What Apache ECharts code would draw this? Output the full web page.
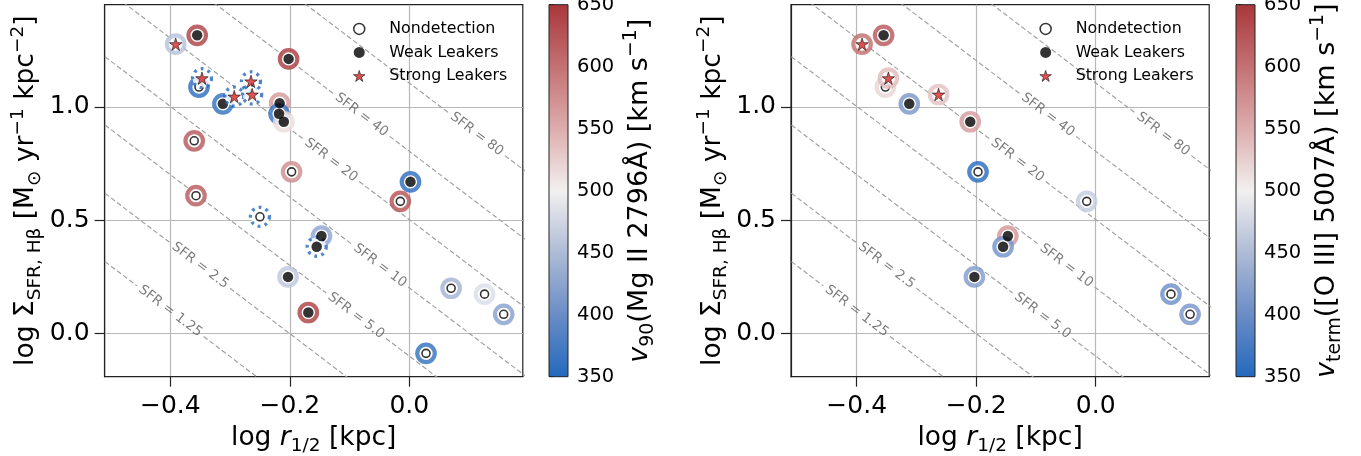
<!DOCTYPE html>
<html>
<head>
<meta charset="utf-8">
<script src="https://cdn.jsdelivr.net/npm/echarts@6/dist/echarts.min.js"></script>
<style>
  html, body { margin: 0; padding: 0; background: #fff; }
  #chart { width: 1361px; height: 456px; }
</style>
</head>
<body>
<div id="chart"></div>
<script>
// ---- sample: half-light radius, SFR surface density, leaker class ----
const logR = [-0.391, -0.355, -0.202, -0.347, -0.352, -0.312, -0.293, -0.265, -0.263,
              -0.217, -0.218, -0.210, -0.360, -0.197, -0.357, -0.250, 0.002, -0.015,
              -0.147, -0.155, -0.203, -0.169, 0.070, 0.126, 0.158, 0.028];
const logSigma = [1.276, 1.315, 1.211, 1.126, 1.087, 1.013, 1.045, 1.112, 1.054,
                  1.016, 0.969, 0.934, 0.850, 0.713, 0.608, 0.515, 0.669, 0.583,
                  0.430, 0.383, 0.250, 0.093, 0.200, 0.174, 0.085, -0.087];
// N = Nondetection, W = Weak Leakers, S = Strong Leakers
const leakClass = ['S', 'W', 'W', 'S', 'N', 'W', 'S', 'S', 'S',
                   'W', 'W', 'W', 'N', 'N', 'N', 'N', 'W', 'N',
                   'W', 'W', 'W', 'W', 'N', 'N', 'N', 'N'];
// Mg II 2796 v90 [km/s]; dotted ring where no value is measured
const v90 = [455, 645, 648, null, 355, 358, null, null, null,
             568, 360, 515, 625, 578, 622, null, 355, 628,
             425, null, 460, 645, 440, 482, 420, 358];
const v90Dotted = [false, false, false, true, false, false, true, true, true,
                   false, false, false, false, false, false, true, false, false,
                   false, true, false, false, false, false, false, false];
// [O III] 5007 terminal velocity [km/s]
const vTerm = [605, 625, null, 540, 520, 410, null, null, 535,
               null, null, 565, null, 352, null, null, null, 465,
               570, 405, 415, null, null, 400, 408, null];

const classKeys = ['N', 'W', 'S'];
const classNames = ['Nondetection', 'Weak Leakers', 'Strong Leakers'];

// tick labels
const xTicks = [-0.4, -0.2, 0.0];
const yTicks = [0.0, 0.5, 1.0];
const cbTicks = [350, 400, 450, 500, 550, 600, 650];

// constant-SFR curves: Sigma = SFR / (2 pi r^2)
const sfrLabels = ['1.25', '2.5', '5.0', '10', '20', '40', '80'];
const sfrLevels = sfrLabels.map(Number);

// ---- layout ----
const FONT = "'DejaVu Sans', sans-serif";
const X_MIN = -0.51, X_MAX = 0.19, Y_MIN = -0.19, Y_MAX = 1.45;
const GRID_TOP = 4.7, GRID_H = 372, GRID_W = 418.2;
const CB_W = 19;
const sfrLabelAt = [-0.400, -0.350, -0.089, -0.049, -0.131, -0.080, 0.113];

const pxX = GRID_W / (X_MAX - X_MIN);
const pxY = GRID_H / (Y_MAX - Y_MIN);
const slopeAngle = Math.atan(2 * pxY / pxX);
const slopeDeg = slopeAngle * 180 / Math.PI;

// diverging blue-white-red colour map over 350..650 km/s
const cmapStops = [
  [0.000, [35, 105, 189]],
  [0.167, [106, 140, 198]],
  [0.333, [173, 187, 214]],
  [0.500, [243, 240, 240]],
  [0.667, [221, 172, 172]],
  [0.833, [195, 113, 115]],
  [1.000, [169, 55, 59]]
];
const V_MIN = cbTicks[0], V_MAX = cbTicks[cbTicks.length - 1];
function cmap(v) {
  let t = (v - V_MIN) / (V_MAX - V_MIN);
  t = Math.max(0, Math.min(1, t));
  for (let i = 1; i < cmapStops.length; i++) {
    const [t1, c1] = cmapStops[i];
    const [t0, c0] = cmapStops[i - 1];
    if (t <= t1) {
      const f = (t - t0) / (t1 - t0);
      const c = c0.map((a, j) => Math.round(a + (c1[j] - a) * f));
      return `rgb(${c[0]},${c[1]},${c[2]})`;
    }
  }
  const c = cmapStops[cmapStops.length - 1][1];
  return `rgb(${c[0]},${c[1]},${c[2]})`;
}

// five-pointed star marker
const STAR = (function () {
  const pts = [];
  for (let k = 0; k < 10; k++) {
    const a = -Math.PI / 2 + k * Math.PI / 5;
    const r = k % 2 ? 38.1966 : 100;
    pts.push((r * Math.cos(a)).toFixed(2) + ' ' + (r * Math.sin(a)).toFixed(2));
  }
  return 'path://M' + pts.join(' L') + ' Z';
})();

const DOT_BLUE = '#2466be';
const SFR_FONT = 13.5;

const measure = document.createElement('canvas').getContext('2d');
measure.font = SFR_FONT + 'px "DejaVu Sans"';

const baseRich = {
  m: { fontSize: 26.5, fontFamily: FONT, color: '#000', lineHeight: 36, verticalAlign: 'middle' },
  i: { fontSize: 26.5, fontFamily: FONT, color: '#000', lineHeight: 36, verticalAlign: 'middle', fontStyle: 'italic' },
  s: { fontSize: 18.5, fontFamily: FONT, color: '#000', lineHeight: 18, verticalAlign: 'bottom' },
  p: { fontSize: 18.5, fontFamily: FONT, color: '#000', lineHeight: 18, verticalAlign: 'top' }
};

const fmtTick = v => (v < 0 ? '\u2212' : '') + Math.abs(v).toFixed(1);

const panels = [
  { left: 104.6, cbLeft: 549, vel: v90, dotted: v90Dotted,
    cbName: '{i|v}{s|90}{m|(Mg II 2796\u00c5) [km s}{p|\u22121}{m|]}' },
  { left: 791, cbLeft: 1236, vel: vTerm, dotted: null,
    cbName: '{i|v}{s|term}{m|([O III] 5007\u00c5) [km s}{p|\u22121}{m|]}' }
];

const grids = [], xAxes = [], yAxes = [], series = [], legends = [];

panels.forEach((P, pi) => {
  grids.push({ left: P.left, top: GRID_TOP, width: GRID_W, height: GRID_H,
               show: true, borderColor: '#222', borderWidth: 1.2, backgroundColor: '#fff',
               containLabel: false, outerBoundsMode: 'none' });
  xAxes.push({
    type: 'value', gridIndex: pi, min: X_MIN, max: X_MAX, splitNumber: 3,
    axisLine: { show: true, onZero: false, lineStyle: { color: '#222', width: 1.2 } },
    axisTick: { show: true, customValues: xTicks, length: 10, lineStyle: { color: '#222', width: 1.2 } },
    axisLabel: { customValues: xTicks, formatter: fmtTick, fontSize: 25, color: '#000',
                 fontFamily: FONT, margin: 17 },
    splitLine: { show: true, lineStyle: { color: '#b8b8b8', width: 1.2 } },
    name: '{m|log }{i|r}{s|1/2}{m| [kpc]}',
    nameLocation: 'middle', nameGap: 43,
    nameTextStyle: { rich: baseRich }
  });
  yAxes.push({
    type: 'value', gridIndex: pi, min: Y_MIN, max: Y_MAX, splitNumber: 3,
    axisLine: { show: true, onZero: false, lineStyle: { color: '#222', width: 1.2 } },
    axisTick: { show: true, customValues: yTicks, length: 10, lineStyle: { color: '#222', width: 1.2 } },
    axisLabel: { customValues: yTicks, formatter: fmtTick, fontSize: 25, color: '#000',
                 fontFamily: FONT, margin: 15 },
    splitLine: { show: true, lineStyle: { color: '#b8b8b8', width: 1.2 } },
    name: '{m|log \u03a3}{s|SFR, H\u03b2}{m| [M}{s|\u2299}{m| yr}{p|\u22121}{m| kpc}{p|\u22122}{m|]}',
    nameLocation: 'middle', nameGap: 60, nameRotate: 90,
    nameTextStyle: { rich: baseRich }
  });

  // constant-SFR dashed curves with a gap where the label sits
  sfrLevels.forEach((sfr, li) => {
    const c = Math.log10(sfr / (2 * Math.PI));
    const yAt = x => c - 2 * x;
    const xc = sfrLabelAt[li];
    const text = 'SFR = ' + sfrLabels[li];
    const half = measure.measureText(text).width / 2 + 4;
    const dx = half * Math.cos(slopeAngle) / pxX;
    [[X_MIN - 0.05, xc - dx], [xc + dx, X_MAX + 0.05]].forEach(seg => {
      series.push({
        type: 'line', xAxisIndex: pi, yAxisIndex: pi, silent: true, clip: true,
        symbol: 'none', animation: false, z: 1,
        lineStyle: { color: '#a0a0a0', width: 1.15, type: [5, 2.6] },
        data: seg.map(x => [x, yAt(x)])
      });
    });
    series.push({
      type: 'scatter', xAxisIndex: pi, yAxisIndex: pi, silent: true, z: 1,
      symbolSize: 1, itemStyle: { color: 'transparent' },
      label: { show: true, position: 'inside', formatter: text, rotate: -slopeDeg,
               fontSize: SFR_FONT, color: '#5c5c5c', fontFamily: FONT },
      data: [[xc, yAt(xc)]]
    });
  });

  // coloured rings and markers, one pass per leaker class
  classKeys.forEach((key, ci) => {
    const idx = [];
    logR.forEach((_, k) => {
      if (leakClass[k] !== key) return;
      const hasVal = P.vel[k] !== null;
      const isDot = P.dotted && P.dotted[k];
      if (hasVal || isDot) idx.push(k);
    });
    series.push({
      type: 'scatter', xAxisIndex: pi, yAxisIndex: pi, silent: true, z: 2,
      symbol: 'circle',
      data: idx.map(k => {
        const isDot = P.dotted && P.dotted[k];
        return isDot
          ? { value: [logR[k], logSigma[k]], symbolSize: 19,
              itemStyle: { color: '#fff', borderColor: DOT_BLUE, borderWidth: 3.3, borderType: [2.8, 4.4] } }
          : { value: [logR[k], logSigma[k]], symbolSize: 17.5,
              itemStyle: { color: '#fff', borderColor: cmap(P.vel[k]), borderWidth: 4.2 } };
      })
    });
    const markerStyle = key === 'N'
      ? { symbol: 'circle', symbolSize: 8, itemStyle: { color: '#fff', borderColor: '#000', borderWidth: 1.6 } }
      : key === 'W'
        ? { symbol: 'circle', symbolSize: 10.5, itemStyle: { color: '#000', borderWidth: 0 } }
        : { symbol: STAR, symbolSize: 12.5, itemStyle: { color: '#d62728', borderColor: '#000', borderWidth: 0.7 } };
    series.push(Object.assign({
      type: 'scatter', name: classNames[ci], xAxisIndex: pi, yAxisIndex: pi, silent: true, z: 2,
      data: idx.map(k => [logR[k], logSigma[k]])
    }, markerStyle));
  });

  legends.push({
    left: P.left + 243.4, top: 15.7, orient: 'vertical',
    itemWidth: 50, itemHeight: 11, itemGap: 7, selectedMode: false,
    textStyle: { fontSize: 15.8, color: '#000', fontFamily: FONT, lineHeight: 16.5 },
    data: [
      { name: classNames[0], icon: 'circle', itemStyle: { color: '#fff', borderColor: '#000', borderWidth: 1.5 } },
      { name: classNames[1], icon: 'circle', itemStyle: { color: '#000', borderWidth: 0 } },
      { name: classNames[2], icon: STAR, itemStyle: { color: '#d62728', borderColor: '#000', borderWidth: 0.7 } }
    ]
  });
});

// colour bars
panels.forEach((P, pi) => {
  const gi = 2 + pi;
  grids.push({ left: P.cbLeft, top: GRID_TOP, width: CB_W, height: GRID_H,
               containLabel: false, outerBoundsMode: 'none' });
  xAxes.push({ type: 'value', gridIndex: gi, min: 0, max: 1, show: false });
  yAxes.push({
    type: 'value', gridIndex: gi, position: 'right', min: V_MIN, max: V_MAX, interval: 50,
    axisLine: { show: false },
    axisTick: { show: true, length: 5, lineStyle: { color: '#222', width: 1 } },
    axisLabel: { fontSize: 19.5, color: '#000', fontFamily: FONT, margin: 9 },
    splitLine: { show: false },
    name: P.cbName, nameLocation: 'middle', nameGap: 54, nameRotate: 90,
    nameTextStyle: { rich: Object.fromEntries(Object.entries(baseRich).map(([k, s]) =>
      [k, Object.assign({}, s, { fontSize: s.fontSize * 1.02 })])) }
  });
  series.push({
    type: 'custom', xAxisIndex: gi, yAxisIndex: gi, silent: true,
    data: [[0, V_MIN, V_MAX]],
    renderItem: (params, api) => {
      const p0 = api.coord([0, api.value(1)]);
      const p1 = api.coord([1, api.value(2)]);
      return {
        type: 'rect',
        shape: { x: p0[0], y: p1[1], width: p1[0] - p0[0], height: p0[1] - p1[1] },
        style: {
          fill: new echarts.graphic.LinearGradient(0, 1, 0, 0,
            cmapStops.map(([t, c]) => ({ offset: t, color: `rgb(${c[0]},${c[1]},${c[2]})` }))),
          stroke: '#222', lineWidth: 1
        }
      };
    }
  });
});

const chart = echarts.init(document.getElementById('chart'), null, { renderer: 'canvas' });
chart.setOption({
  animation: false,
  backgroundColor: '#fff',
  textStyle: { fontFamily: FONT },
  grid: grids,
  xAxis: xAxes,
  yAxis: yAxes,
  legend: legends,
  series: series
});
</script>
</body>
</html>
